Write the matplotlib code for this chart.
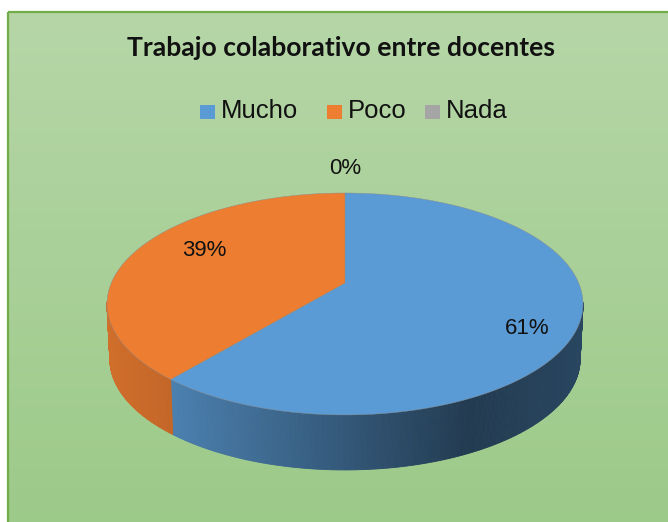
import numpy as np
import matplotlib.pyplot as plt
from matplotlib import font_manager
from matplotlib.patches import Polygon, Rectangle
from matplotlib.colors import to_rgb

categories = ["Mucho", "Poco", "Nada"]
shares = [61, 39, 0]
labels = ["61%", "39%", "0%"]
colors = ["#5b9bd5", "#ed7d31", "#a5a5a5"]
title = "Trabajo colaborativo entre docentes"

W, H = 668, 522
fig = plt.figure(figsize=(W / 100, H / 100), dpi=100)
fig.patch.set_facecolor("white")
ax = fig.add_axes([0, 0, 1, 1])
ax.set_xlim(0, W)
ax.set_ylim(H, 0)
ax.axis("off")

# chart area: green vertical gradient with border
grad = np.linspace(0, 1, 256).reshape(-1, 1)
top_c = np.array([182, 214, 167]) / 255
bot_c = np.array([156, 202, 137]) / 255
img = top_c + (bot_c - top_c) * grad[..., None]
ax.imshow(img, extent=(8, W + 5, H + 5, 12), aspect="auto", zorder=0)
ax.add_patch(Rectangle((8, 12), W, H, fill=False, ec="#70ad47", lw=1.6, zorder=1))

# 3D pie, simple perspective of a tilted disc (pixel space, y down)
cx, cy, A, B, k, depth = 345, 283, 233.7, 107, 0.189, 55


def pt(th):
    u, v = np.cos(th), np.sin(th)
    w = 1 + k * v
    return cx + A * u / w, cy - B * v / w


def pt_bottom(th):
    x, y = pt(th)
    return cx + (x - cx) * 0.988, y + depth


def side_factor(x):
    # lighter on the left, darkest around x=470, a bit lighter at far right
    return np.interp(x, [107, 175, 470, 585], [0.88, 0.82, 0.38, 0.45])


def shade(c, f):
    return tuple(np.clip(np.array(to_rgb(c)) * f, 0, 1))


total = float(sum(shares))
start = np.pi / 2
bounds = []
for v in shares:
    end = start - 2 * np.pi * v / total
    bounds.append((start, end))
    start = end

# side walls (front part only)
for (s, e), c, v in zip(bounds, colors, shares):
    if v == 0:
        continue
    ths = np.linspace(e, s, 500)
    for t0, t1 in zip(ths[:-1], ths[1:]):
        tm = 0.5 * (t0 + t1)
        if np.sin(tm) > -k + 0.02:
            continue
        x0, y0 = pt(t0)
        x1, y1 = pt(t1)
        bx0, by0 = pt_bottom(t0)
        bx1, by1 = pt_bottom(t1)
        col = shade(c, side_factor(0.5 * (x0 + x1)))
        ax.add_patch(Polygon([(x0, y0), (x1, y1), (bx1, by1), (bx0, by0)],
                             closed=True, fc=col, ec=col, lw=0.6, zorder=2))

# top faces
for (s, e), c, v in zip(bounds, colors, shares):
    if v == 0:
        continue
    ths = np.linspace(s, e, 300)
    xs, ys = pt(ths)
    verts = [(cx, cy)] + list(zip(xs, ys))
    ax.add_patch(Polygon(verts, closed=True, fc=c, ec="#8a8a8a", lw=0.3, zorder=4))

# data labels
label_pos = [(527, 328), (204, 250), (345, 168)]
for txt, (x, y) in zip(labels, label_pos):
    ax.text(x, y, txt, ha="center", va="center", fontsize=16, family="Liberation Sans",
            color="#111111", zorder=6)

# title: narrow bold face if present, width fitted to the reference
installed = {f.name for f in font_manager.fontManager.ttflist}
title_font = "Liberation Sans Narrow" if "Liberation Sans Narrow" in installed else "Lato"
t = ax.text(341, 48, title, ha="center", va="center", fontsize=20,
            family=title_font, fontweight="bold", color="#111111", zorder=6)
fig.canvas.draw()
wpx = t.get_window_extent().width
t.set_fontsize(20 * 428 / wpx)

# legend
leg_items = [(200, "Mucho"), (327, "Poco"), (425, "Nada")]
for (x, name), c in zip(leg_items, colors):
    ax.add_patch(Rectangle((x, 105), 15, 14, fc=c, ec="none", zorder=6))
    ax.text(x + 21, 111, name, ha="left", va="center", fontsize=18.5,
            family="Liberation Sans", color="#111111", zorder=6)

fig.savefig("out.png", dpi=100, facecolor="white")
